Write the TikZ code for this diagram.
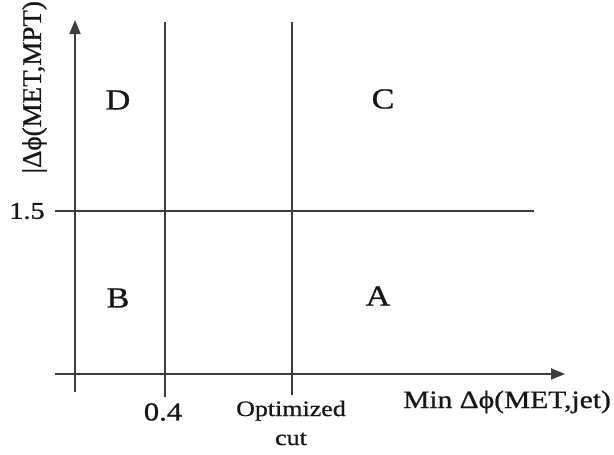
\documentclass[tikz,border=0pt]{standalone}
\usepackage{fontspec}
\setmainfont[FakeBold=0.8]{Liberation Serif}
\usetikzlibrary{arrows.meta, positioning}
\definecolor{Axis}{HTML}{3C3C3C}
\definecolor{Ink}{HTML}{161616}
% the reference lettering is wider than it is tall
\newcommand{\widetxt}[1]{\scalebox{1.18}[1]{#1}}

\begin{document}
\begin{tikzpicture}[x=1pt, y=-1pt, >={Triangle[length=14pt, width=11pt]},
  axisline/.style={draw=Axis, line width=1.8pt},
  region/.style={text=Ink, inner sep=0pt, font=\fontsize{29}{30}\selectfont},
  ticklbl/.style={text=Ink, inner sep=0pt, font=\fontsize{25}{28}\selectfont},
  axislbl/.style={text=Ink, inner sep=0pt, font=\fontsize{25}{28}\selectfont}]
  \useasboundingbox (0,0) rectangle (614,455);
  % axis end points
  \coordinate (xL) at (55,374);
  \coordinate (xR) at (565,374);
  \coordinate (yB) at (75,392);
  \coordinate (yT) at (75,20);
  % cut lines
  \coordinate (hL) at (55,211);
  \coordinate (hR) at (534,211);
  \coordinate (vaT) at (165,22);
  \coordinate (vaB) at (165,397);
  \coordinate (vbT) at (292,22);
  \coordinate (vbB) at (292,395);

  \draw[axisline, ->] (xL) -- (xR);
  \draw[axisline, ->] (yB) -- (yT);
  \draw[axisline] (hL) -- (hR);
  \draw[axisline] (vaB) -- (vaT);
  \draw[axisline] (vbB) -- (vbT);

  % regions
  \node[region] (regD) at (118,100) {\widetxt{D}};
  \node[region] (regC) at (383,99) {\widetxt{C}};
  \node[region] (regB) at (118,298) {\widetxt{B}};
  \node[region] (regA) at (378,296) {\widetxt{A}};

  % ticks and titles
  \node[ticklbl, font=\fontsize{24}{28}\selectfont] (lbl15) at (27,211) {\widetxt{1.5}};
  \node[ticklbl, font=\fontsize{26}{28}\selectfont] (lbl04) at (163,412) {\widetxt{0.4}};
  \node[ticklbl, align=center, font=\fontsize{22}{29}\selectfont] (lblopt) at (291,423)
    {\widetxt{Optimized}\\\widetxt{cut}};
  \node[axislbl] (xlbl) at (507,402) {\widetxt{Min Δϕ(MET,jet)}};
  \node[axislbl, rotate=90, font=\fontsize{27}{29}\selectfont] (ylbl) at (34.5,84.5)
    {|Δϕ(MET,MPT)|};
\end{tikzpicture}
\end{document}
